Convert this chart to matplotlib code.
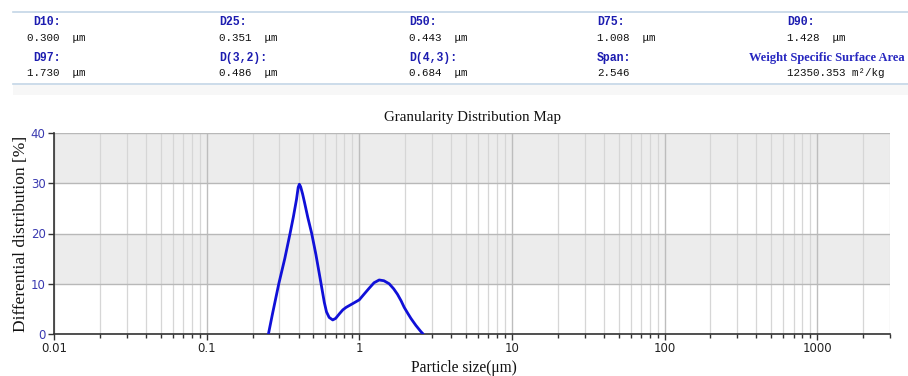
import matplotlib
matplotlib.use("Agg")
import matplotlib.pyplot as plt
from matplotlib.ticker import LogLocator, FixedLocator, FixedFormatter, NullFormatter
import numpy as np

# ---- data ----
size_um = [0.254, 0.27, 0.297, 0.325, 0.352, 0.370, 0.388, 0.398, 0.405, 0.413,
           0.425, 0.437, 0.46, 0.488, 0.52, 0.562, 0.590, 0.610, 0.635, 0.670,
           0.70, 0.74, 0.78, 0.82, 0.90, 1.00, 1.08, 1.16, 1.25, 1.35,
           1.45, 1.57, 1.68, 1.78, 1.88, 1.97, 2.08, 2.18, 2.35, 2.53, 2.62]
diff_pct = [0.0, 4.0, 10.0, 15.0, 20.0, 23.3, 26.8, 29.2, 29.8, 29.3,
            27.9, 26.3, 23.2, 20.0, 15.8, 10.0, 6.3, 4.4, 3.3, 2.8,
            3.1, 4.0, 4.8, 5.3, 6.0, 6.8, 8.0, 9.1, 10.2, 10.75,
            10.6, 10.0, 9.0, 7.9, 6.6, 5.3, 4.1, 3.1, 1.7, 0.5, 0.0]

stat_labels = ["D10:", "D25:", "D50:", "D75:", "D90:",
               "D97:", "D(3,2):", "D(4,3):", "Span:", "Weight Specific Surface Area"]
stat_values = ["0.300  μm", "0.351  μm", "0.443  μm", "1.008  μm", "1.428  μm",
               "1.730  μm", "0.486  μm", "0.684  μm", "2.546", "12350.353 m²/kg"]

x_major = [0.01, 0.1, 1, 10, 100, 1000]
x_major_labels = ["0.01", "0.1", "1", "10", "100", "1000"]
y_ticks = [0, 10, 20, 30, 40]

W, H = 908, 376
fig = plt.figure(figsize=(W / 100, H / 100), dpi=100)

label_col = "#1c1cb0"

# ---- header table ----
def fx(px):
    return px / W

def fy(py):
    return 1 - py / H

for yy in (12, 84):
    fig.add_artist(plt.Line2D([fx(13), 1.0], [fy(yy), fy(yy)], color="#c3d6e6", lw=1.2))
fig.add_artist(plt.Rectangle((fx(13), fy(95)), 1 - fx(13), fy(85) - fy(95),
                             facecolor="#f7f7f7", edgecolor="none"))

col_x = [33, 219, 409, 597, 787]
row_label_y = [22, 58]
row_value_y = [38, 73]
for i, (lab, val) in enumerate(zip(stat_labels, stat_values)):
    r, c = divmod(i, 5)
    if lab.startswith("Weight"):
        fig.text(fx(749), fy(row_label_y[r]), lab, color="#2828c0", fontsize=9.0,
                 fontweight="bold", family="Liberation Serif", va="center", ha="left")
    else:
        fig.text(fx(col_x[c]), fy(row_label_y[r]), lab, color=label_col, fontsize=8.3,
                 fontweight="bold", family="Liberation Mono", va="center", ha="left")
    fig.text(fx(col_x[c] - 6 if c == 0 else col_x[c]), fy(row_value_y[r]), val, color="#111111",
             fontsize=7.8, family="Liberation Mono", va="center", ha="left")

# ---- chart ----
ax = fig.add_axes([fx(54), fy(334), fx(890) - fx(54), fy(133) - fy(334)])
ax.set_xscale("log")
ax.set_xlim(0.01, 3000)
ax.set_ylim(0, 40)

# alternating bands
for lo, hi in ((10, 20), (30, 40)):
    ax.axhspan(lo, hi, facecolor="#ececec", edgecolor="none", zorder=0)

ax.xaxis.set_major_locator(FixedLocator(x_major))
ax.xaxis.set_major_formatter(FixedFormatter(x_major_labels))
ax.xaxis.set_minor_locator(LogLocator(base=10, subs=np.arange(2, 10), numticks=20))
ax.xaxis.set_minor_formatter(NullFormatter())
ax.set_yticks(y_ticks)

ax.grid(which="major", axis="x", color="#bdbdbd", lw=1.0, zorder=1)
ax.grid(which="minor", axis="x", color="#d6d6d6", lw=0.9, zorder=1)
ax.grid(which="major", axis="y", color="#b8b8b8", lw=1.0, zorder=1)
ax.set_axisbelow(True)

ax.plot(size_um, diff_pct, color="#1010d8", lw=2.0, zorder=3,
        solid_capstyle="round", solid_joinstyle="round")

for s in ("top", "right"):
    ax.spines[s].set_visible(False)
for s in ("left", "bottom"):
    ax.spines[s].set_color("#333333")
    ax.spines[s].set_linewidth(1.2)

ax.tick_params(axis="x", which="major", length=4, width=1, color="#333333",
               labelsize=8.5, labelcolor="#222222", pad=2)
ax.tick_params(axis="x", which="minor", length=3, width=1, color="#333333")
ax.tick_params(axis="y", length=4, width=1, color="#333333", labelsize=8.5,
               labelcolor="#3a3ab0", pad=2)

ax.set_title("Granularity Distribution Map", fontsize=10.8, family="Liberation Serif",
             pad=9, color="#111111")
ax.set_ylabel("Differential distribution [%]", fontsize=12.5, family="Liberation Serif",
              labelpad=1, color="#111111")
ax.set_xlabel("Particle size(μm)", fontsize=11.2, family="Liberation Serif",
              labelpad=3, color="#111111")
ax.xaxis.label.set_x(0.49)

fig.savefig("out.png", dpi=100)
